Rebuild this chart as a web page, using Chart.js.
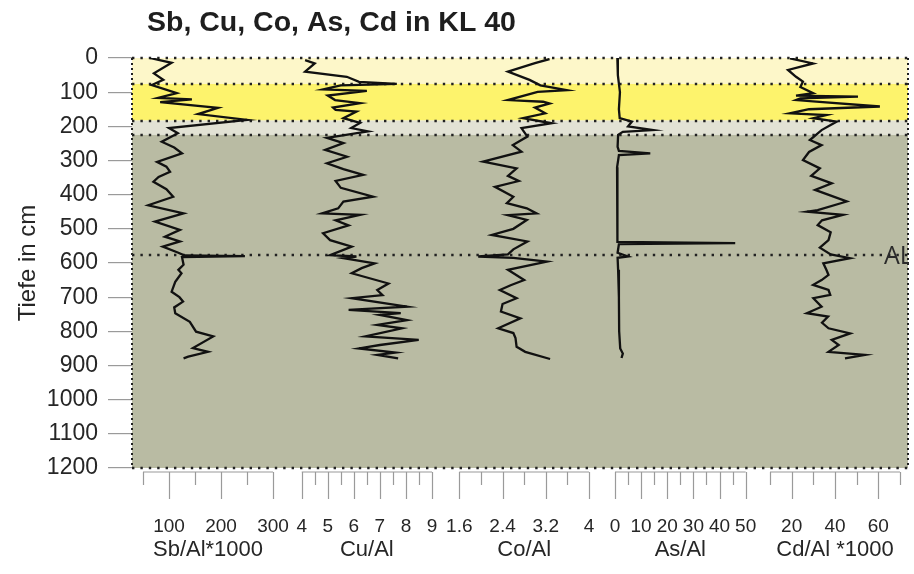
<!DOCTYPE html>
<html>
<head>
<meta charset="utf-8">
<script src="https://cdn.jsdelivr.net/npm/chart.js@4.4.1/dist/chart.umd.min.js"></script>
<style>
  html, body { margin: 0; background: #fff; }
  #wrap { width: 914px; height: 574px; }
</style>
</head>
<body>
<div id="wrap"><canvas id="kl40"></canvas></div>
<script>
// Kern KL 40 – Tiefenprofile der Al-normierten Elementgehalte
const sbDepth = [0, 14, 45, 64, 79, 103, 117, 121, 129, 146, 164, 181, 205, 220, 245, 262, 279, 304, 318, 333, 348, 362, 384, 406, 431, 455, 479, 503, 523, 537, 552, 570, 578, 580, 583, 605, 620, 630, 655, 684, 700, 713, 730, 747, 772, 801, 815, 849, 860, 874, 879];
const sbVal = [63, 105, 71, 89, 67, 115, 79, 144, 83, 194, 156, 250, 100, 117, 86, 110, 125, 77, 95, 102, 80, 70, 95, 108, 60, 128, 73, 121, 92, 121, 88, 118, 130, 246, 125, 128, 118, 124, 112, 105, 120, 127, 110, 112, 140, 152, 185, 146, 175, 137, 128];

const cuDepth = [6, 16, 40, 55, 70, 76, 80, 92, 96, 110, 123, 132, 145, 152, 157, 176, 190, 205, 215, 234, 249, 269, 289, 308, 325, 342, 360, 380, 406, 420, 440, 455, 459, 475, 490, 513, 533, 552, 577, 581, 586, 601, 615, 630, 660, 679, 694, 703, 728, 737, 747, 752, 767, 781, 791, 815, 825, 840, 850, 862, 869, 879];
const cuVal = [4.13, 4.5, 4.13, 5.73, 6.2, 7.65, 5.5, 4.82, 6.5, 5.0, 5.28, 6.24, 5.2, 5.3, 6.1, 5.6, 6.24, 5.9, 6.55, 4.97, 5.6, 4.9, 5.74, 4.97, 5.6, 6.36, 5.3, 5.5, 6.74, 5.6, 5.4, 4.78, 6.24, 5.3, 5.8, 4.82, 5.09, 5.92, 5.09, 6.1, 5.6, 6.8, 6.3, 5.92, 7.33, 6.9, 7.1, 5.92, 8.04, 5.8, 7.8, 7.0, 8.04, 6.9, 7.85, 6.44, 8.49, 7.0, 6.2, 7.6, 6.9, 7.7];

const coDepth = [3, 15, 40, 64, 80, 94, 99, 123, 128, 133, 145, 162, 176, 191, 205, 230, 255, 274, 303, 323, 345, 360, 377, 406, 425, 440, 455, 460, 474, 500, 518, 537, 560, 575, 581, 585, 596, 620, 650, 665, 679, 703, 720, 742, 762, 791, 805, 820, 845, 860, 881];
const coVal = [3.27, 3.0, 2.5, 2.9, 3.1, 3.59, 3.05, 2.5, 3.15, 3.27, 3.0, 3.19, 2.78, 3.31, 2.75, 2.86, 2.59, 2.75, 2.04, 2.66, 2.5, 2.7, 2.26, 2.6, 2.48, 2.85, 3.03, 2.5, 2.85, 2.6, 2.2, 2.86, 2.6, 2.5, 1.95, 2.6, 3.22, 2.5, 2.8, 2.55, 2.35, 2.66, 2.4, 2.37, 2.73, 2.32, 2.6, 2.64, 2.66, 2.82, 3.28];

const asDepth = [0, 50, 100, 150, 176, 186, 200, 211, 216, 225, 260, 272, 279, 284, 320, 400, 480, 538, 542, 545, 570, 581, 585, 620, 700, 800, 850, 865, 878];
const asVal = [0.9, 1.1, 1.9, 1.5, 1.8, 6.5, 5, 14.5, 3, 1.2, 1.0, 1.5, 13.5, 1.5, 0.8, 1.0, 0.8, 1.0, 46, 1.5, 1.0, 5, 1.0, 1.2, 1.5, 1.6, 2.0, 3.0, 2.5];

const cdDepth = [1, 16, 35, 55, 69, 85, 103, 110, 113, 118, 123, 142, 150, 162, 167, 176, 186, 211, 240, 255, 275, 299, 323, 345, 367, 386, 420, 445, 450, 459, 475, 489, 510, 533, 555, 575, 586, 601, 620, 635, 650, 664, 679, 693, 703, 728, 747, 757, 775, 791, 806, 825, 840, 860, 869, 879];
const cdVal = [19.2, 29.9, 18.3, 22, 25.2, 24, 29.9, 22, 50.6, 24, 22, 60.7, 28, 19.2, 36, 30, 40.8, 33.8, 28.4, 33.8, 28, 25.2, 33, 29, 38.5, 30.8, 45.4, 32, 27, 43.7, 34, 32, 38, 37, 33, 38, 46.9, 34.6, 36, 37, 33.8, 29.9, 37, 37.8, 30, 33.8, 27, 36.8, 34, 37, 47, 38.5, 41.7, 37, 53.8, 44.6];

// Achsenbeschriftung der fünf Teilskalen
const panelNames = ['Sb/Al*1000', 'Cu/Al', 'Co/Al', 'As/Al', 'Cd/Al *1000'];
const panelRange = [[50, 300], [4, 9], [1.6, 4], [0, 50], [10, 70]];
const majorTicks = [[100, 200, 300], [4, 5, 6, 7, 8, 9], [1.6, 2.4, 3.2, 4], [0, 10, 20, 30, 40, 50], [20, 40, 60]];
const minorTicks = [[50, 150, 250], [4.5, 5.5, 6.5, 7.5, 8.5], [2.0, 2.8, 3.6], [5, 15, 25, 35, 45], [10, 30, 50, 70]];

// Schichtgrenzen (cm) und Horizont AL
const layerTop = [0, 76, 183, 225];
const layerBottom = [76, 183, 225, 1200];
const alDepth = 577;

const layerColors = ['#fdf7c9', '#fdf36c', '#e2e2d4', '#b9bba3'];
// Lage der Teilskalen innerhalb der Plotbreite (Anteil 0..1)
const panelSlots = [[0.0142, 0.1817], [0.2187, 0.3866], [0.4218, 0.5889], [0.6224, 0.7908], [0.8222, 0.9897]];
const scaleIds = ['xSb', 'xCu', 'xCo', 'xAs', 'xCd'];

const series = [[sbDepth, sbVal], [cuDepth, cuVal], [coDepth, coVal], [asDepth, asVal], [cdDepth, cdVal]];

const scales = {
  y: {
    type: 'linear',
    reverse: true,
    min: 0,
    max: 1200,
    border: { display: false },
    grid: { drawOnChartArea: false, tickLength: 24, color: '#9a9a9a', lineWidth: 1.2 },
    ticks: {
      stepSize: 100,
      padding: 10,
      color: '#262626',
      font: { family: 'Liberation Sans', size: 23 },
      callback: (v) => String(v)
    },
    title: { display: true, text: 'Tiefe in cm', color: '#262626', padding: { top: 14 }, font: { family: 'Liberation Sans', size: 24 } },
    afterFit: (s) => { s.width = 132; }
  }
};

// jede Teilskala überspannt die ganze Breite, damit ihr Wertebereich im eigenen Feld liegt
scaleIds.forEach((id, i) => {
  const [lo, hi] = panelRange[i];
  const [f0, f1] = panelSlots[i];
  const span = (hi - lo) / (f1 - f0);
  const min = lo - f0 * span;
  scales[id] = { type: 'linear', position: 'bottom', display: false, min: min, max: min + span };
});

const datasets = series.map(([depth, val], i) => ({
  label: panelNames[i],
  xAxisID: scaleIds[i],
  yAxisID: 'y',
  data: depth.map((d, k) => ({ x: val[k], y: d })),
  showLine: true,
  borderColor: '#111',
  borderWidth: 2.3,
  pointRadius: 0,
  tension: 0
}));

const profileDecor = {
  id: 'profileDecor',
  beforeDatasetsDraw(chart) {
    const { ctx, chartArea: a, scales: sc } = chart;
    const y = sc.y;
    ctx.save();
    layerTop.forEach((t, i) => {
      const y0 = y.getPixelForValue(t);
      const y1 = y.getPixelForValue(layerBottom[i]);
      ctx.fillStyle = layerColors[i];
      ctx.fillRect(a.left, y0, a.right - a.left, y1 - y0);
    });
    // gepunktete Schichtgrenzen
    ctx.strokeStyle = '#222';
    ctx.lineWidth = 2.4;
    ctx.setLineDash([2.4, 6]);
    const lines = [0, ...layerBottom.slice(0, 3), alDepth, 1200];
    lines.forEach(d => {
      const yy = Math.round(y.getPixelForValue(d));
      ctx.beginPath();
      ctx.moveTo(a.left, yy);
      ctx.lineTo(a.right, yy);
      ctx.stroke();
    });
    ctx.lineWidth = 2;
    ctx.setLineDash([2, 3]);
    [a.left, a.right].forEach(xx => {
      ctx.beginPath();
      ctx.moveTo(xx, a.top);
      ctx.lineTo(xx, a.bottom);
      ctx.stroke();
    });
    ctx.restore();
  },
  afterDraw(chart) {
    const { ctx, chartArea: a, scales: sc } = chart;
    ctx.save();
    // Titel
    ctx.fillStyle = '#1e1e1e';
    ctx.font = 'bold 28.5px "Liberation Sans"';
    ctx.textAlign = 'left';
    ctx.textBaseline = 'alphabetic';
    ctx.fillText('Sb, Cu, Co, As, Cd in KL 40', 147, 31);

    // Horizont AL am rechten Rand
    ctx.save();
    ctx.beginPath();
    ctx.rect(a.left, a.top, a.right - a.left + 1, a.bottom - a.top);
    ctx.clip();
    ctx.font = '25px "Open Sans"';
    ctx.fillStyle = '#2a2a2a';
    ctx.textBaseline = 'middle';
    ctx.fillText('AL', a.right - 24, sc.y.getPixelForValue(alDepth) + 2);
    ctx.restore();

    // Teilskalen unterhalb der Grafik
    const base = a.bottom + 4;
    ctx.strokeStyle = '#9a9a9a';
    ctx.lineWidth = 1.2;
    scaleIds.forEach((id, i) => {
      const s = sc[id];
      const [lo, hi] = panelRange[i];
      const x0 = s.getPixelForValue(lo), x1 = s.getPixelForValue(hi);
      ctx.beginPath();
      ctx.moveTo(x0, base);
      ctx.lineTo(x1, base);
      majorTicks[i].forEach(v => {
        const xx = Math.round(s.getPixelForValue(v)) + 0.5;
        ctx.moveTo(xx, base);
        ctx.lineTo(xx, base + 27);
      });
      minorTicks[i].forEach(v => {
        const xx = Math.round(s.getPixelForValue(v)) + 0.5;
        ctx.moveTo(xx, base);
        ctx.lineTo(xx, base + 13);
      });
      ctx.stroke();

      ctx.fillStyle = '#262626';
      ctx.textAlign = 'center';
      ctx.textBaseline = 'middle';
      ctx.font = '19px "Liberation Sans"';
      majorTicks[i].forEach(v => {
        ctx.fillText(String(v), s.getPixelForValue(v), 527);
      });
      ctx.font = '22px "Liberation Sans"';
      ctx.fillText(panelNames[i], (x0 + x1) / 2, 550);
    });
    ctx.restore();
  }
};

new Chart(document.getElementById('kl40'), {
  type: 'scatter',
  data: { datasets: datasets },
  options: {
    responsive: true,
    maintainAspectRatio: false,
    animation: false,
    devicePixelRatio: 1,
    events: [],
    layout: { padding: { top: 58, bottom: 106, right: 6, left: 0 } },
    plugins: { legend: { display: false }, tooltip: { enabled: false } },
    scales: scales
  },
  plugins: [profileDecor]
});
</script>
</body>
</html>
